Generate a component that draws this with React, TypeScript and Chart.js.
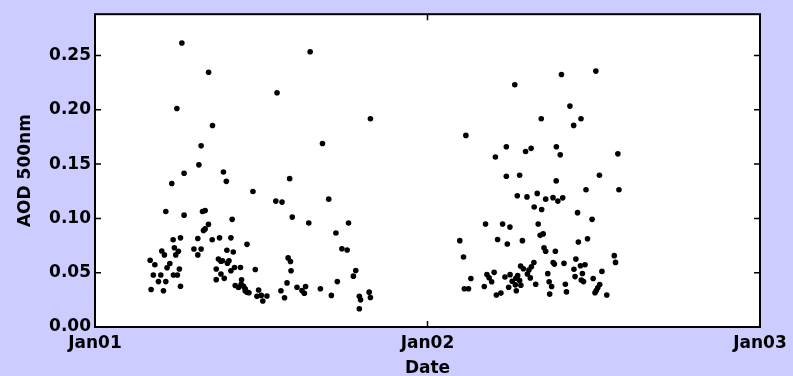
import React, { useEffect, useRef } from "react";
import { Chart, registerables } from "chart.js";

Chart.register(...registerables);

// Hours since Jan01 00:00 and AOD at 500 nm — first day
const day1Hours = [
  3.98, 4.32, 4.05, 4.21, 4.75, 4.58, 5.11, 4.94, 5.11, 4.82, 5.01, 5.40, 5.20, 5.64, 5.66, 5.95,
  5.73, 6.02, 5.83, 6.17, 6.09, 6.17, 6.43, 5.54, 7.14, 7.42, 7.42, 7.66, 7.76, 7.95, 7.83, 7.95,
  8.19, 8.46, 8.75, 8.75, 8.99, 8.91, 9.09, 9.20, 9.09, 9.33, 9.52, 9.67, 9.56, 9.81, 9.98, 9.90,
  9.81, 10.07, 10.50, 10.12, 10.36, 10.58, 10.55, 10.72, 10.84, 10.84, 10.97, 11.11, 10.97, 11.40,
  11.57, 11.81, 11.69, 12.00, 12.11, 12.41, 13.05, 13.50, 13.42, 13.68, 13.86, 13.94, 14.11, 14.15,
  14.24, 14.58, 14.94, 15.11, 15.20, 15.43, 16.27, 16.87, 17.06, 17.39, 17.49, 17.82, 18.20, 18.30,
  18.65, 18.82, 19.08, 19.17, 19.08, 19.79, 19.88, 6.27, 8.20, 5.91, 8.48, 7.66, 7.50, 6.43,
  9.27, 9.48, 13.14, 15.53, 19.88, 16.42, 14.05,
];
const day1Aod = [
  0.0615, 0.0573, 0.0345, 0.0479, 0.0479, 0.0418, 0.0418, 0.0334, 0.1064, 0.0700, 0.0664, 0.0585,
  0.0545, 0.0803, 0.0479, 0.0479, 0.0730, 0.0697, 0.0664, 0.0821, 0.0534, 0.0375, 0.1030, 0.1321,
  0.0718, 0.0815, 0.0664, 0.0718, 0.1064, 0.1073, 0.0888, 0.0903, 0.0945, 0.0803, 0.0534, 0.0436,
  0.0821, 0.0625, 0.0606, 0.0609, 0.0488, 0.0448, 0.0706, 0.0609, 0.0588, 0.0821, 0.0691, 0.0991,
  0.0518, 0.0548, 0.0548, 0.0382, 0.0364, 0.0434, 0.0394, 0.0375, 0.0352, 0.0334, 0.0321, 0.0315,
  0.0761, 0.1248, 0.0530, 0.0341, 0.0282, 0.0291, 0.0239, 0.0285, 0.1159, 0.1150, 0.0334, 0.0270,
  0.0406, 0.0636, 0.0603, 0.0518, 0.1012, 0.0366, 0.0335, 0.0311, 0.0373, 0.0957, 0.0352, 0.1177,
  0.0291, 0.0865, 0.0418, 0.0721, 0.0709, 0.0957, 0.0468, 0.0520, 0.0282, 0.0250, 0.0168, 0.0321,
  0.0271, 0.2615, 0.2345, 0.2012, 0.1855, 0.1668, 0.1493, 0.1416, 0.1427, 0.1341, 0.2157, 0.2534,
  0.1918, 0.1689, 0.1366,
];

// Second day
const day2Hours = [
  26.77, 30.30, 33.67, 36.15, 34.28, 32.21, 35.08, 34.55, 29.69, 28.90, 31.08, 31.48, 33.30, 33.58,
  37.74, 29.69, 30.65, 33.29, 36.41, 35.44, 37.82, 30.48, 31.18, 31.92, 32.53, 33.06, 33.41, 33.76,
  31.70, 32.24, 34.83, 35.88, 28.19, 29.42, 29.95, 31.99, 32.13, 32.35, 26.33, 29.06, 29.76, 30.85,
  34.89, 35.55, 26.60, 32.41, 32.53, 33.23, 37.48, 37.57, 34.71, 33.07, 33.16, 33.85, 30.72, 30.92,
  31.32, 31.50, 31.68, 31.21, 31.42, 35.04, 35.37, 34.57, 36.59, 28.29, 28.45, 28.63, 28.81, 27.13,
  26.66, 26.96, 28.10, 29.59, 29.96, 30.11, 30.38, 30.51, 30.65, 32.68, 32.78, 32.96, 34.65, 35.18,
  35.10, 35.26, 35.96, 36.43, 36.29, 36.18, 36.09, 36.94, 31.81, 29.86, 30.41, 30.34, 30.74, 28.97,
  29.30, 32.82, 33.95, 34.03,
];
const day2Aod = [
  0.1764, 0.2230, 0.2325, 0.2356, 0.2034, 0.1918, 0.1918, 0.1856, 0.1659, 0.1565, 0.1616, 0.1645,
  0.1659, 0.1585, 0.1594, 0.1388, 0.1397, 0.1345, 0.1397, 0.1264, 0.1264, 0.1209, 0.1198, 0.1230,
  0.1177, 0.1191, 0.1159, 0.1189, 0.1105, 0.1082, 0.1053, 0.0991, 0.0948, 0.0948, 0.0920, 0.0948,
  0.0844, 0.0857, 0.0795, 0.0805, 0.0764, 0.0795, 0.0782, 0.0812, 0.0645, 0.0730, 0.0698, 0.0697,
  0.0657, 0.0595, 0.0625, 0.0594, 0.0579, 0.0586, 0.0561, 0.0536, 0.0525, 0.0555, 0.0594, 0.0488,
  0.0452, 0.0564, 0.0573, 0.0532, 0.0512, 0.0484, 0.0453, 0.0416, 0.0503, 0.0447, 0.0352, 0.0352,
  0.0373, 0.0461, 0.0482, 0.0421, 0.0448, 0.0473, 0.0427, 0.0491, 0.0416, 0.0373, 0.0464, 0.0493,
  0.0432, 0.0418, 0.0447, 0.0391, 0.0361, 0.0336, 0.0315, 0.0295, 0.0393, 0.0366, 0.0334, 0.0388,
  0.0385, 0.0295, 0.0312, 0.0303, 0.0394, 0.0323,
];

const xTickValues = [0, 24, 48];
const xTickLabels = ["Jan01", "Jan02", "Jan03"];
const yTickValues = [0, 0.05, 0.1, 0.15, 0.2, 0.25];
const xTitle = "Date";
const yTitle = "AOD 500nm";

const FONT = { family: "'DejaVu Sans', sans-serif", size: 17, weight: "bold" as const, lineHeight: 1.2 };

const framePlugin = {
  id: "frame",
  beforeDatasetsDraw(chart: any) {
    const { ctx, chartArea: a } = chart;
    ctx.save();
    ctx.fillStyle = "#ffffff";
    ctx.fillRect(a.left, a.top, a.right - a.left, a.bottom - a.top);
    ctx.restore();
  },
  afterDraw(chart: any) {
    const { ctx, chartArea: a, scales } = chart;
    const tl = 6;
    ctx.save();
    ctx.strokeStyle = "#000";
    ctx.lineWidth = 1.5;
    ctx.beginPath();
    for (const v of yTickValues) {
      const y = scales.y.getPixelForValue(v);
      ctx.moveTo(a.left, y);
      ctx.lineTo(a.left + tl, y);
      ctx.moveTo(a.right, y);
      ctx.lineTo(a.right - tl, y);
    }
    for (const v of xTickValues) {
      const x = scales.x.getPixelForValue(v);
      ctx.moveTo(x, a.bottom);
      ctx.lineTo(x, a.bottom - tl);
      ctx.moveTo(x, a.top);
      ctx.lineTo(x, a.top + tl);
    }
    ctx.stroke();
    ctx.lineWidth = 2;
    ctx.strokeRect(a.left, a.top, a.right - a.left, a.bottom - a.top);
    ctx.restore();
  },
};

export default function App() {
  const ref = useRef<HTMLCanvasElement | null>(null);

  useEffect(() => {
    document.body.style.margin = "0";
    const canvas = ref.current;
    if (!canvas) return;
    const points = [
      ...day1Hours.map((h, i) => ({ x: h, y: day1Aod[i] })),
      ...day2Hours.map((h, i) => ({ x: h, y: day2Aod[i] })),
    ];
    const chart = new Chart(canvas, {
      type: "scatter",
      data: {
        datasets: [
          {
            data: points,
            backgroundColor: "#000",
            borderWidth: 0,
            pointRadius: 2.8,
            pointHoverRadius: 2.8,
          },
        ],
      },
      options: {
        animation: false,
        responsive: false,
        maintainAspectRatio: false,
        layout: { padding: { top: 10, right: 33, left: 0, bottom: 0 } },
        plugins: { legend: { display: false }, tooltip: { enabled: false } },
        scales: {
          x: {
            type: "linear",
            min: 0,
            max: 48,
            afterBuildTicks: (s: any) => {
              s.ticks = xTickValues.map((v) => ({ value: v }));
            },
            afterFit: (s: any) => {
              s.height = 49;
            },
            ticks: {
              autoSkip: false,
              maxRotation: 0,
              padding: 6,
              color: "#000",
              font: FONT,
              callback: (v: any) => xTickLabels[xTickValues.indexOf(Number(v))] ?? "",
            },
            grid: { display: false, drawTicks: false },
            border: { display: false },
            title: { display: true, text: xTitle, color: "#000", font: FONT, padding: { top: 0, bottom: -3 } },
          },
          y: {
            type: "linear",
            min: 0,
            max: 0.288,
            afterBuildTicks: (s: any) => {
              s.ticks = yTickValues.map((v) => ({ value: v }));
            },
            afterFit: (s: any) => {
              s.width = 95;
            },
            ticks: {
              padding: 4,
              color: "#000",
              font: FONT,
              callback: (v: any) => Number(v).toFixed(2),
            },
            grid: { display: false, drawTicks: false },
            border: { display: false },
            title: { display: true, text: yTitle, color: "#000", font: FONT, padding: { top: 15, bottom: 0 } },
          },
        },
      },
      plugins: [framePlugin],
    });
    return () => chart.destroy();
  }, []);

  return (
    <div style={{ width: 793, height: 376, background: "#ccccff" }}>
      <canvas ref={ref} width={793} height={376} style={{ display: "block" }} />
    </div>
  );
}
